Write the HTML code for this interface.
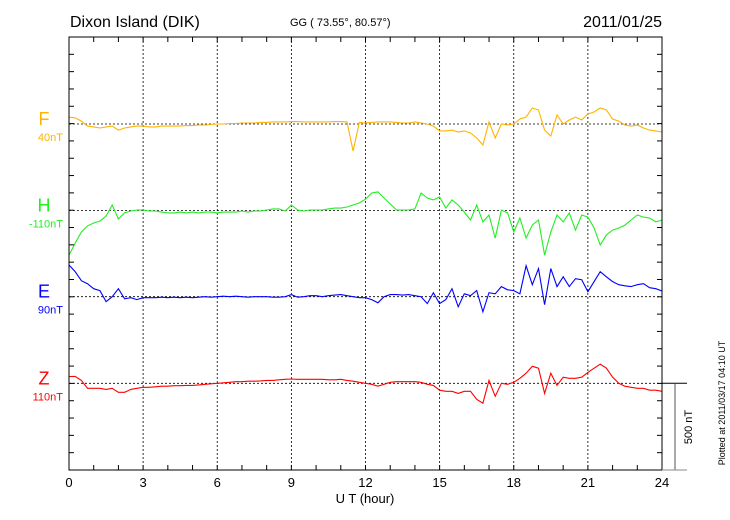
<!DOCTYPE html>
<html><head><meta charset="utf-8"><style>
html,body{margin:0;padding:0;background:#fff;}
svg{display:block;font-family:"Liberation Sans",sans-serif;}
</style></head><body>
<svg id="chart" width="730" height="520" viewBox="0 0 730 520">
<text x="70" y="27" font-size="16">Dixon Island (DIK)</text>
<text x="290" y="26" font-size="11">GG ( 73.55°,  80.57°)</text>
<text x="662" y="27" font-size="16" text-anchor="end">2011/01/25</text>
<g id="grid"></g>
<g id="series"></g>
<rect x="69" y="37" width="593" height="433" fill="none" stroke="#000" stroke-width="1"/>
<g id="ticks"></g>
<text x="365" y="503" font-size="13" text-anchor="middle">U T (hour)</text>
<line x1="662" y1="383.3" x2="687" y2="383.3" stroke="#000"/>
<line x1="675" y1="383.3" x2="675" y2="470" stroke="#555"/>
<line x1="662" y1="470" x2="687" y2="470" stroke="#888"/>
<text transform="translate(692,427) rotate(-90)" font-size="11" text-anchor="middle">500 nT</text>
<text transform="translate(725,403) rotate(-90)" font-size="9" text-anchor="middle">Plotted at 2011/03/17 04:10 UT</text>
</svg>
<script>
const hours = [0,3,6,9,12,15,18,21,24];
const componentNames = ["F","H","E","Z"];
const componentOffsets = ["40nT","-110nT","90nT","110nT"];
const fValues = [40,35,17,-12, -17,-23,-17,-12, -35,-23,-17,-12, -12,-17,-17,-12, -12,-12,-12,-9, -9,-6,-6,-3, 0,0,3,3, 6,6,6,9, 9,12,12,12, 14,14,12,12, 12,12,12,14, 14,12,-156,9, 6,9,12,12, 12,9,6,6, 12,6,0,-12, -40,-40,-35,-46, -40,-52,-81,-121, 12,-81,0,-6, 0,29,40,92, 81,-35,-69,52, 0,23,40,23, 58,69,92,81, 29,17,-6,-12, -6,-23,-35,-40, -46];
const hValues = [-257,-188,-124,-89, -72,-61,-32,32, -49,-14,-3,3, 3,-3,-3,-9, -14,-14,-9,-14, -9,-14,-9,-9, -14,-9,-9,-9, -3,-9,-3,-3, 3,9,9,-3, 32,3,-3,3, 3,3,9,14, 14,20,32,43, 66,101,107,72, 38,3,3,3, 9,101,72,61, 78,14,61,32, -9,-55,32,-66, -26,-159,3,-14, -124,-43,-159,-84, -55,-257,-124,-26, -66,-14,-113,-26, -38,-101,-199,-141, -113,-101,-84,-55, -26,-38,-43,-66, -55];
const eValues = [183,144,92,75, 46,35,-29,0, 46,-12,-6,-17, -6,-6,-6,-3, -6,-3,-6,-3, -6,-3,0,-3, 0,3,0,3, 0,-3,0,0, 0,-3,-3,0, 12,-3,0,6, 6,0,6,9, 12,6,0,-6, -6,-17,-35,0, 12,12,9,12, 6,0,-40,23, -40,-17,46,-58, 17,6,35,-87, 23,17,58,40, 35,17,179,69, 162,-46,162,58, 115,58,104,98, 29,87,144,115, 87,69,63,58, 69,75,52,46, 33];
const zValues = [39,40,17,-29, -29,-29,-35,-29, -52,-52,-35,-29, -23,-23,-20,-17, -17,-14,-14,-12, -12,-9,-6,-3, 0,3,6,9, 9,12,12,14, 17,17,20,23, 25,23,23,23, 23,23,20,20, 23,17,12,6, 0,-6,-17,-6, 6,9,9,9, 9,6,-6,-12, -40,-46,-46,-58, -46,-46,-92,-115, 17,-75,0,-6, 6,29,58,98, 87,-58,58,-12, 35,29,29,35, 63,87,110,87, 35,0,-17,-23, -29,-29,-40,-40, -46];
const seriesData = [fValues,hValues,eValues,zValues];
const colors = ["#ffb300","#22ee22","#0000ff","#ff0000"];
const NS="http://www.w3.org/2000/svg";
const X0=69,X1=662,Y0=37,Y1=470;
const baselines=[124,210.5,296.7,383.3];
const pxPerNT=(Y1-383.3)/500;
function xScale(h){return X0+(X1-X0)*h/24;}
function yScale(i,v){return baselines[i]-v*pxPerNT;}
function mk(tag,attrs,parent){const e=document.createElementNS(NS,tag);for(const k in attrs)e.setAttribute(k,attrs[k]);parent.appendChild(e);return e;}
const grid=document.getElementById('grid'),ticks=document.getElementById('ticks'),ser=document.getElementById('series');
hours.forEach(h=>{if(h>0&&h<24){const l=mk('line',{x1:xScale(h),y1:Y0,x2:xScale(h),y2:Y1,stroke:'#000','stroke-width':0.8,'stroke-dasharray':'2,2'},grid);

}
const t=mk('text',{x:xScale(h),y:487,'font-size':13,'text-anchor':'middle'},ticks);t.textContent=h;

});
for(let h=1;h<24;h++){const x=xScale(h);
const a=mk('line',{x1:x,y1:Y0,x2:x,y2:Y0+5,stroke:'#000'},ticks);


const b=mk('line',{x1:x,y1:Y1,x2:x,y2:Y1-5,stroke:'#000'},ticks);

}
for(let k=1;k<25;k++){const y=Y0+k*(Y1-Y0)/25;
const a=mk('line',{x1:X0,y1:y,x2:X0+5,y2:y,stroke:'#000'},ticks);


const b=mk('line',{x1:X1,y1:y,x2:X1-5,y2:y,stroke:'#000'},ticks);

}
seriesData.forEach((vals,i)=>{
const bl=mk('line',{x1:X0,y1:baselines[i],x2:X1,y2:baselines[i],stroke:'#000','stroke-width':0.8,'stroke-dasharray':'2,2'},grid);


const pts=vals.map((v,j)=>xScale(j*24/(vals.length-1)).toFixed(1)+','+yScale(i,v).toFixed(1)).join(' ');
const p=mk('polyline',{points:pts,fill:'none',stroke:colors[i],'stroke-width':1.1},ser);


const n=mk('text',{x:44,y:baselines[i]+1,'font-size':18,'text-anchor':'middle',fill:colors[i]},ticks);n.textContent=componentNames[i];


const o=mk('text',{x:63,y:baselines[i]+17,'font-size':11,'text-anchor':'end',fill:colors[i]},ticks);o.textContent=componentOffsets[i];


});
</script>
</body></html>
